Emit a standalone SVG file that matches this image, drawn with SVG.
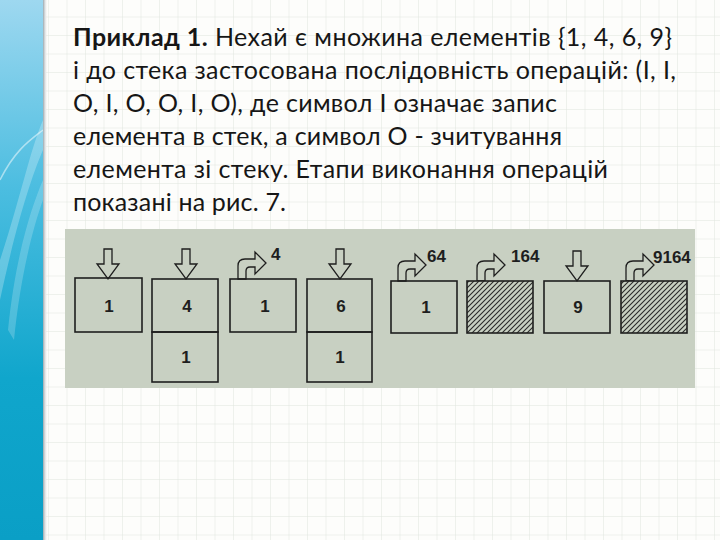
<svg xmlns="http://www.w3.org/2000/svg" width="720" height="540" viewBox="0 0 720 540">
<defs>
<pattern id="grid" patternUnits="userSpaceOnUse" x="48" y="16.5" width="18.5" height="18.5">
<path d="M0,0 V18.5 M0,0 H18.5" fill="none" stroke="#e0e5de" stroke-width="1"/>
</pattern>
<pattern id="hatch" patternUnits="userSpaceOnUse" width="5" height="5">
<rect width="5" height="5" fill="#c8d0c2"/>
<path d="M-1,6 L6,-1 M-1,1 L1,-1 M4,6 L6,4" stroke="#2a2a2a" stroke-width="1.1"/>
</pattern>
<linearGradient id="bar" x1="0" y1="0" x2="0" y2="1">
<stop offset="0" stop-color="#9ed8f0"/>
<stop offset="0.35" stop-color="#4bbde0"/>
<stop offset="0.7" stop-color="#10a6cc"/>
<stop offset="1" stop-color="#0a9fc6"/>
</linearGradient>
<linearGradient id="shadow" x1="0" y1="0" x2="1" y2="0">
<stop offset="0" stop-color="#9aa6ac"/>
<stop offset="1" stop-color="#ffffff" stop-opacity="0"/>
</linearGradient>
<style>
.p{font-family:Lato,"Liberation Sans",sans-serif;font-size:25px;fill:#161616}
.b{font-weight:bold}
.box{fill:none;stroke:#1e1e1e;stroke-width:1.6}
.arr{fill:#c8d0c2;stroke:#1e1e1e;stroke-width:1.3;stroke-linejoin:miter}
.d{font-family:"Liberation Sans",Arial,sans-serif;font-size:17px;font-weight:bold;fill:#1e1e1e}
.c{text-anchor:middle}
</style>
</defs>
<rect width="720" height="540" fill="#fdfdfb"/>
<rect x="46" width="674" height="540" fill="url(#grid)"/>
<rect x="0" y="0" width="43" height="540" fill="url(#bar)"/>
<path d="M0,260 C20,200 30,150 43,120 L43,150 C30,180 15,230 0,300 Z" fill="#ffffff" opacity="0.25"/>
<path d="M8,330 C15,260 30,210 43,180 L43,200 C32,230 20,280 14,340 Z" fill="#ffffff" opacity="0.2"/>
<path d="M0,180 C15,150 30,140 43,130" fill="none" stroke="#ffffff" stroke-opacity="0.5" stroke-width="1.5"/>
<rect x="43" y="0" width="5" height="540" fill="url(#shadow)"/>

<g id="paragraph">
<text class="p" x="73" y="46" textLength="599"><tspan class="b">Приклад 1.</tspan> Нехай є множина елементів {1, 4, 6, 9}</text>
<text class="p" x="73" y="79" textLength="603">і до стека застосована послідовність операцій: (І, І,</text>
<text class="p" x="73" y="112" textLength="484">О, І, О, О, І, О), де символ І означає запис</text>
<text class="p" x="73" y="145" textLength="489">елемента в стек, а символ О - зчитування</text>
<text class="p" x="73" y="178" textLength="535">елемента зі стеку. Етапи виконання операцій</text>
<text class="p" x="73" y="211" textLength="213">показані на рис. 7.</text>
</g>

<rect x="65" y="229" width="630" height="159" fill="#c8d0c2"/>

<g id="connectors">
<path class="arr" transform="translate(108,279)" d="M-4,-30 L4,-30 L4,-15 L11,-15 L0,0 L-11,-15 L-4,-15 Z"/>
<path class="arr" transform="translate(186,279)" d="M-4,-30 L4,-30 L4,-15 L11,-15 L0,0 L-11,-15 L-4,-15 Z"/>
<path class="arr" transform="translate(238,279)" d="M0,0 L0,-13 Q0,-20 7,-20 L17,-20 L17,-27 L28,-16 L17,-5 L17,-12 L12,-12 Q8,-12 8,-8 L8,0 Z"/>
<path class="arr" transform="translate(340,279)" d="M-4,-30 L4,-30 L4,-15 L11,-15 L0,0 L-11,-15 L-4,-15 Z"/>
<path class="arr" transform="translate(398,281)" d="M0,0 L0,-13 Q0,-20 7,-20 L17,-20 L17,-27 L28,-16 L17,-5 L17,-12 L12,-12 Q8,-12 8,-8 L8,0 Z"/>
<path class="arr" transform="translate(477,281)" d="M0,0 L0,-13 Q0,-20 7,-20 L17,-20 L17,-27 L28,-16 L17,-5 L17,-12 L12,-12 Q8,-12 8,-8 L8,0 Z"/>
<path class="arr" transform="translate(577,281)" d="M-4,-30 L4,-30 L4,-15 L11,-15 L0,0 L-11,-15 L-4,-15 Z"/>
<path class="arr" transform="translate(626,281)" d="M0,0 L0,-13 Q0,-20 7,-20 L17,-20 L17,-27 L28,-16 L17,-5 L17,-12 L12,-12 Q8,-12 8,-8 L8,0 Z"/>
</g>

<g id="stage1">
<rect class="box" x="75" y="278" width="67" height="54"/>
<text class="d c" x="109" y="312">1</text>
</g>
<g id="stage2">
<rect class="box" x="152" y="279" width="66" height="53"/>
<rect class="box" x="152" y="332" width="66" height="50"/>
<text class="d c" x="187" y="312">4</text>
<text class="d c" x="186" y="363">1</text>
</g>
<g id="stage3">
<rect class="box" x="230" y="279" width="66" height="53"/>
<text class="d c" x="265" y="312">1</text>
<text class="d" x="271" y="260">4</text>
</g>
<g id="stage4">
<rect class="box" x="307" y="279" width="65" height="53"/>
<rect class="box" x="307" y="332" width="65" height="50"/>
<text class="d c" x="341" y="312">6</text>
<text class="d c" x="340" y="363">1</text>
</g>
<g id="stage5">
<rect class="box" x="391" y="281" width="66" height="52"/>
<text class="d c" x="426" y="313">1</text>
<text class="d" x="427" y="262">64</text>
</g>
<g id="stage6">
<rect class="box" x="467" y="281" width="66" height="52" style="fill:url(#hatch)"/>
<text class="d" x="511" y="262">164</text>
</g>
<g id="stage7">
<rect class="box" x="544" y="281" width="66" height="52"/>
<text class="d c" x="578" y="313">9</text>
</g>
<g id="stage8">
<rect class="box" x="621" y="281" width="66" height="52" style="fill:url(#hatch)"/>
<text class="d" x="653" y="263">9164</text>
</g>
</svg>
